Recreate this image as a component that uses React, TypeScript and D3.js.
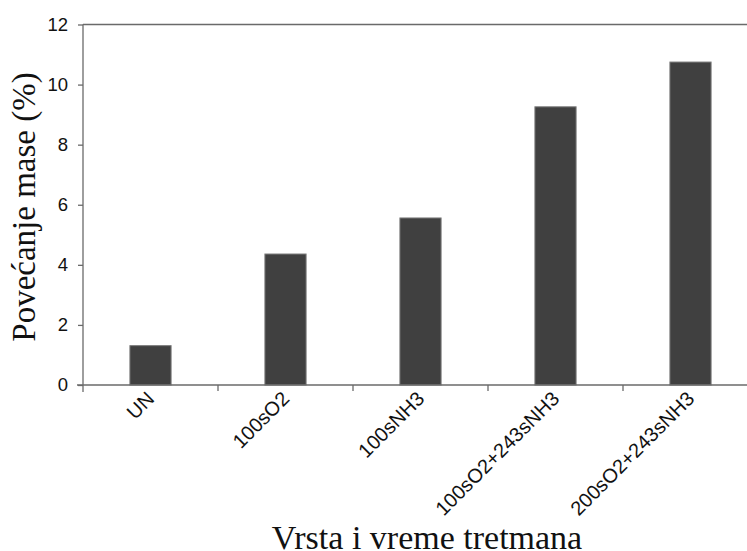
import React, { useEffect, useRef } from 'react';
import * as d3 from 'd3';

// chart data
const categories = ['UN', '100sO2', '100sNH3', '100sO2+243sNH3', '200sO2+243sNH3'];
const massGain = [1.31, 4.36, 5.56, 9.26, 10.75];
const yTicks = [0, 2, 4, 6, 8, 10, 12];

const App: React.FC = () => {
  const svgRef = useRef<SVGSVGElement>(null);

  useEffect(() => {
    if (!svgRef.current) return;
    const svg = d3.select(svgRef.current);
    svg.selectAll('*').remove();

    const width = 747;
    const height = 551;
    const left = 83;
    const right = 758;   // plot runs past the picture edge
    const top = 24.5;
    const bottom = 385;
    const axisColor = '#6a6a6a';
    const barColor = '#404040';
    const sansFont = '"Liberation Sans", Arial, sans-serif';
    const serifFont = '"Liberation Serif", "Times New Roman", serif';

    svg.attr('width', width).attr('height', height);

    const x = d3.scaleBand<string>()
      .domain(categories)
      .range([left, right])
      .paddingInner(0)
      .paddingOuter(0);

    const y = d3.scaleLinear()
      .domain([0, 12])
      .range([bottom, top]);

    const barW = x.bandwidth() * 0.305;

    // bars
    svg.append('g')
      .selectAll('rect')
      .data(massGain)
      .join('rect')
      .attr('x', (_, i) => x(categories[i])! + x.bandwidth() / 2 - barW / 2)
      .attr('y', d => y(d))
      .attr('width', barW)
      .attr('height', d => y(0) - y(d))
      .attr('fill', barColor)
      .attr('stroke', '#7a7a7a')
      .attr('stroke-width', 1);

    // top frame line
    svg.append('line')
      .attr('x1', left).attr('x2', width)
      .attr('y1', top).attr('y2', top)
      .attr('stroke', axisColor).attr('stroke-width', 1.3);

    // y axis
    const yAxis = svg.append('g')
      .attr('transform', `translate(${left},0)`)
      .call(d3.axisLeft(y).tickValues(yTicks).tickSize(5).tickPadding(10).tickFormat(d3.format('d')));
    yAxis.attr('font-size', null).attr('font-family', null);
    yAxis.select('.domain').remove();
    yAxis.append('line')
      .attr('x1', 0).attr('x2', 0)
      .attr('y1', top).attr('y2', bottom + 7)
      .attr('stroke', axisColor).attr('stroke-width', 1.3);
    yAxis.selectAll('.tick line').attr('stroke', axisColor).attr('stroke-width', 1.3);
    yAxis.selectAll('.tick text')
      .style('font-family', sansFont)
      .style('font-size', '18.5px')
      .attr('fill', '#111');

    // x axis
    const xAxis = svg.append('g')
      .attr('transform', `translate(0,${bottom})`);
    xAxis.append('line')
      .attr('x1', left - 6).attr('x2', width)
      .attr('y1', 0).attr('y2', 0)
      .attr('stroke', axisColor).attr('stroke-width', 1.3);
    xAxis.selectAll('line.sep')
      .data(categories.slice(1))
      .join('line')
      .attr('class', 'sep')
      .attr('x1', d => x(d)!).attr('x2', d => x(d)!)
      .attr('y1', 0).attr('y2', 6)
      .attr('stroke', axisColor).attr('stroke-width', 1.3);
    xAxis.selectAll('text')
      .data(categories)
      .join('text')
      .attr('transform', d => `translate(${x(d)! + x.bandwidth() / 2 + 5},${15}) rotate(-45)`)
      .attr('text-anchor', 'end')
      .style('font-family', sansFont)
      .style('font-size', '20px')
      .attr('fill', '#111')
      .text(d => d);

    // axis titles
    svg.append('text')
      .attr('x', 427)
      .attr('y', 549)
      .attr('text-anchor', 'middle')
      .style('font-family', serifFont)
      .style('font-size', '34px')
      .attr('fill', '#111')
      .text('Vrsta i vreme tretmana');

    svg.append('text')
      .attr('transform', `translate(35,207) rotate(-90)`)
      .attr('text-anchor', 'middle')
      .style('font-family', serifFont)
      .style('font-size', '33px')
      .attr('fill', '#111')
      .text('Povećanje mase (%)');
  }, []);

  return (
    <div style={{ position: 'absolute', left: 0, top: 0, width: 747, height: 551, overflow: 'hidden', background: '#fff' }}>
      <svg ref={svgRef} style={{ display: 'block' }}></svg>
    </div>
  );
};

export default App;
